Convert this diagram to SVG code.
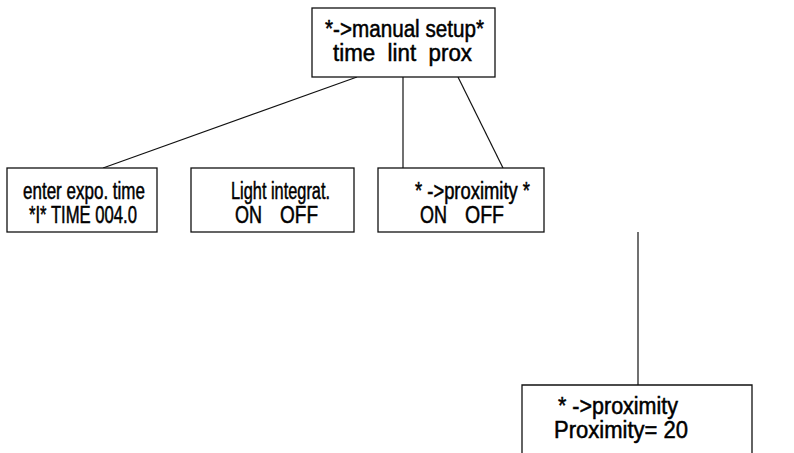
<svg xmlns="http://www.w3.org/2000/svg" width="794" height="453" viewBox="0 0 794 453">
<style>
.box{fill:#fff;stroke:#111;stroke-width:1.3}
.t{font-family:"Liberation Sans",Arial,sans-serif;font-size:23px;font-weight:normal;fill:#000;stroke:#000;stroke-width:0.5;white-space:pre}
.ln{stroke:#111;stroke-width:1.2;fill:none}
</style>
<rect width="794" height="453" fill="#fff"/>
<g id="connectors">
<line class="ln" x1="357" y1="77" x2="103" y2="168"/>
<line class="ln" x1="403" y1="77" x2="403" y2="168"/>
<line class="ln" x1="458" y1="77" x2="503" y2="168"/>
<line class="ln" x1="638" y1="232" x2="638" y2="385"/>
</g>
<g id="manual-setup">
<rect class="box" x="312" y="8" width="183" height="69"/>
<text class="t" x="325" y="37" textLength="159" lengthAdjust="spacingAndGlyphs">*-&gt;manual setup*</text>
<text class="t" x="333" y="61" textLength="139" lengthAdjust="spacingAndGlyphs">time  lint  prox</text>
</g>
<g id="expo-time">
<rect class="box" x="7" y="168" width="150" height="64"/>
<text class="t" x="23" y="199" textLength="122" lengthAdjust="spacingAndGlyphs">enter expo. time</text>
<text class="t" x="29" y="223" textLength="108" lengthAdjust="spacingAndGlyphs">*I* TIME 004.0</text>
</g>
<g id="light-integrat">
<rect class="box" x="191" y="168" width="163" height="64"/>
<text class="t" x="231" y="199" textLength="99" lengthAdjust="spacingAndGlyphs">Light integrat.</text>
<text class="t" x="235" y="223" textLength="27" lengthAdjust="spacingAndGlyphs">ON</text>
<text class="t" x="280" y="223" textLength="38" lengthAdjust="spacingAndGlyphs">OFF</text>
</g>
<g id="proximity">
<rect class="box" x="378" y="168" width="166" height="64"/>
<text class="t" x="415" y="199" textLength="115" lengthAdjust="spacingAndGlyphs">* -&gt;proximity *</text>
<text class="t" x="420" y="223" textLength="27" lengthAdjust="spacingAndGlyphs">ON</text>
<text class="t" x="465" y="223" textLength="39" lengthAdjust="spacingAndGlyphs">OFF</text>
</g>
<g id="proximity-value">
<path class="box" d="M522,460 V385 H752 V460"/>
<text class="t" x="558" y="414" textLength="120" lengthAdjust="spacingAndGlyphs">* -&gt;proximity</text>
<text class="t" x="554" y="438" textLength="134" lengthAdjust="spacingAndGlyphs">Proximity= 20</text>
</g>
</svg>
